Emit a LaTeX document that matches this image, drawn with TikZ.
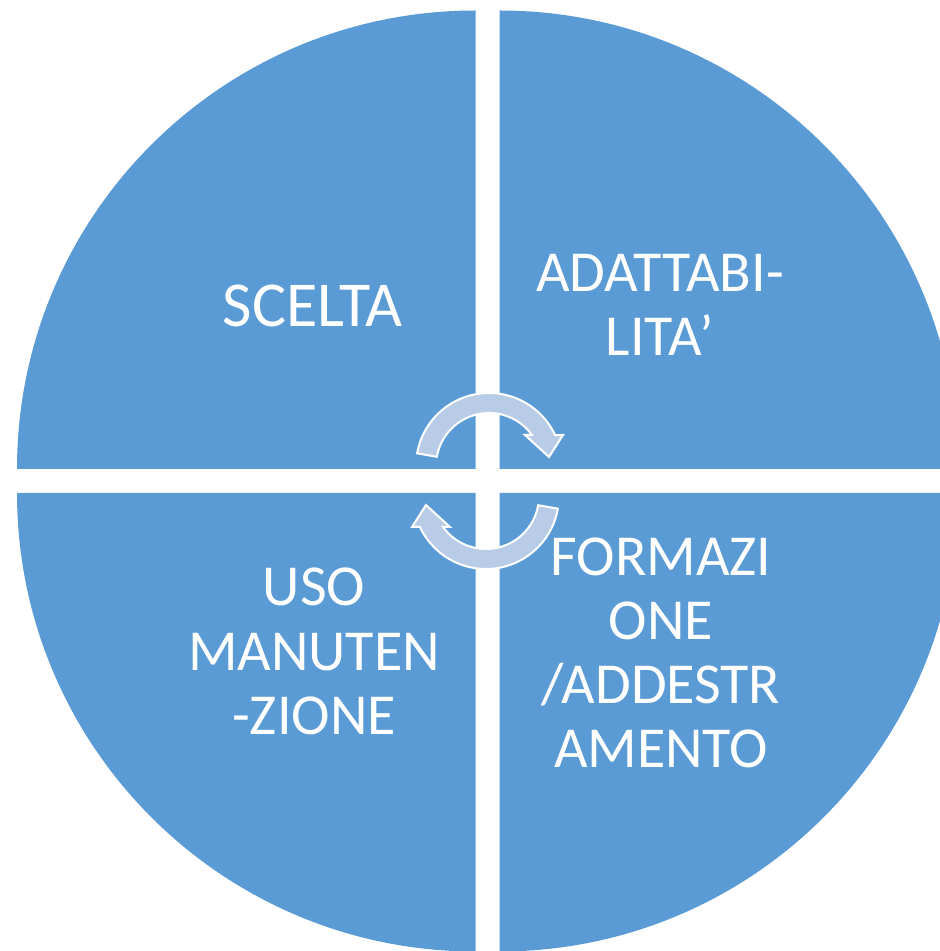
\documentclass[tikz,border=0pt]{standalone}
\usepackage{fontspec}
\setmainfont{Carlito}
\definecolor{pieblue}{HTML}{5B9BD5}
\definecolor{arrowfill}{HTML}{B8CCE8}
\begin{document}
\begin{tikzpicture}[x=1pt,y=1pt,
  quad/.style={fill=pieblue},
  cyc/.style={fill=arrowfill, draw=white, line width=2pt, line join=miter},
  lbl/.style={text=white, font=\fontsize{58}{64}\selectfont, anchor=base, inner sep=0pt}]
\useasboundingbox (0,0) rectangle (940,951);
\clip (0,0) rectangle (940,951);
% quadrants
\fill[quad] (475.5,482) -- (17,482) arc[start angle=180,end angle=90,radius=458.5] -- cycle;
\fill[quad] (499.5,482) -- (499.5,940.5) arc[start angle=90,end angle=0,radius=458.5] -- cycle;
\fill[quad] (475.5,458) -- (17,458) arc[start angle=180,end angle=270,radius=458.5] -- cycle;
\fill[quad] (499.5,458) -- (499.5,-0.5) arc[start angle=270,end angle=360,radius=458.5] -- cycle;
% circular arrows
\def\arrowpath{(170:73) arc[start angle=170,end angle=25.1,radius=73]
  -- (74,31) -- (60,9) -- (36,31)
  -- (35.8:53) arc[start angle=35.8,end angle=170,radius=53] -- cycle}
\begin{scope}[shift={(489,485)}]
\draw[cyc] \arrowpath;
\end{scope}
\begin{scope}[shift={(486,455)}, rotate=180]
\draw[cyc] \arrowpath;
\end{scope}
% labels
\node[lbl, font=\fontsize{64}{70}\selectfont] (sc1) at (313,624) {SCELTA};
\node[lbl] (ad1) at (660,659) {ADATTABI-};
\node[lbl] (ad2) at (660,595) {LITA’};
\node[lbl] (us1) at (314,345) {USO};
\node[lbl] (us2) at (314,280) {MANUTEN};
\node[lbl] (us3) at (314,216) {-ZIONE};
\node[lbl] (fo1) at (661,375) {FORMAZI};
\node[lbl] (fo2) at (661,311) {ONE};
\node[lbl] (fo3) at (661,247) {/ADDESTR};
\node[lbl] (fo4) at (661,183) {AMENTO};
\end{tikzpicture}
\end{document}
